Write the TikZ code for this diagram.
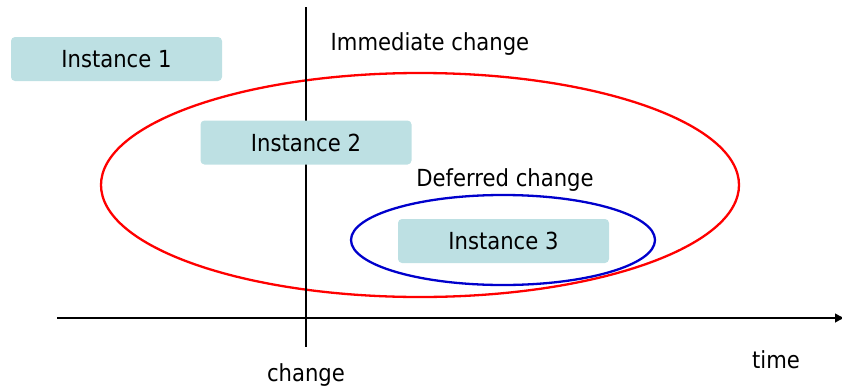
\documentclass[tikz,border=0pt]{standalone}
\usepackage{fontspec}
\setmainfont{DejaVu Sans Condensed}
\usetikzlibrary{arrows.meta,shapes.geometric}
\definecolor{boxfill}{HTML}{BDE0E3}
\definecolor{ellred}{HTML}{FF0000}
\definecolor{ellblue}{HTML}{0000CC}
\tikzset{
  inst/.style={fill=boxfill, rounded corners=4pt, minimum width=211pt, minimum height=44pt, inner sep=0pt, font=\fontsize{23.5}{28}\selectfont},
  lbl/.style={inner sep=0pt, font=\fontsize{23.5}{28}\selectfont},
  axisline/.style={line width=2.6pt, black},
  oval/.style={shape=ellipse, line width=2.3pt, inner sep=0pt},
}
\begin{document}
\begin{tikzpicture}[x=1pt,y=-1pt]
\useasboundingbox (0,0) rectangle (842,391);
% ellipses
\node[oval, draw=ellred, minimum width=638pt, minimum height=224pt] (red) at (420,185) {};
\node[oval, draw=ellblue, minimum width=304pt, minimum height=90pt] (blue) at (503,240) {};
% lines
\coordinate (vtop) at (306,7);
\coordinate (vbot) at (306,347);
\coordinate (a0) at (57,318);
\coordinate (a1) at (845,318);
\draw[axisline] (vtop) -- (vbot);
\draw[axisline, -{Latex[length=10pt,width=10pt]}] (a0) -- (a1);
% boxes
\node[inst] (i1) at (116.5,59) {Instance 1};
\node[inst] (i2) at (306,142.5) {Instance 2};
\node[inst] (i3) at (503.5,241) {Instance 3};
% labels
\node[lbl] (imm) at (430,44) {Immediate change};
\node[lbl] (def) at (505,180) {Deferred change};
\node[lbl] (time) at (776,360) {time};
\node[lbl] (chg) at (306,375) {change};
\end{tikzpicture}
\end{document}
